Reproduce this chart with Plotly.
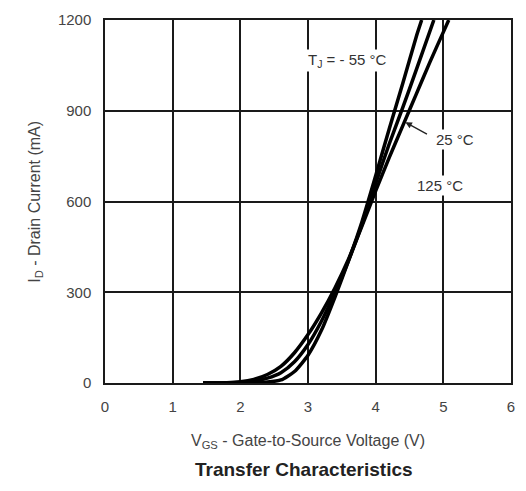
import plotly.graph_objects as go

# Transfer characteristics: Vgs (V) vs Id (mA) at three junction temperatures
vgs_m55 = [1.45, 2.0, 2.2, 2.4, 2.6, 2.8, 3.0, 3.2, 3.4, 3.6, 3.8, 4.0, 4.2, 4.4, 4.6, 4.68]
id_m55 = [0, 0, 1, 3, 10, 38, 92, 175, 285, 405, 535, 685, 840, 990, 1145, 1200]

vgs_25 = [1.45, 1.8, 2.0, 2.2, 2.4, 2.6, 2.8, 3.0, 3.2, 3.4, 3.6, 3.8, 4.0, 4.2, 4.4, 4.6, 4.86]
id_25 = [0, 0, 2, 6, 16, 34, 70, 127, 205, 300, 405, 525, 660, 790, 910, 1035, 1200]

vgs_125 = [1.45, 1.8, 2.0, 2.2, 2.4, 2.6, 2.8, 3.0, 3.2, 3.4, 3.6, 3.8, 4.0, 4.2, 4.4, 4.6, 4.8, 5.0, 5.08]
id_125 = [0, 1, 4, 12, 28, 55, 100, 160, 232, 315, 410, 520, 635, 745, 850, 955, 1060, 1160, 1200]

x_ticks = [0, 1, 2, 3, 4, 5, 6]
y_ticks = [0, 300, 600, 900, 1200]

fig = go.Figure()
for xs, ys, name in [(vgs_m55, id_m55, "-55 °C"), (vgs_25, id_25, "25 °C"), (vgs_125, id_125, "125 °C")]:
    fig.add_trace(go.Scatter(x=xs, y=ys, mode="lines", name=name,
                             line=dict(color="black", width=3.5, shape="spline", smoothing=0.6),
                             showlegend=False))

tick_font = dict(family="Liberation Sans, Arial, sans-serif", size=15, color="#444")
fig.update_xaxes(range=[0, 6], tickvals=x_ticks, ticktext=[str(v) for v in x_ticks],
                 showgrid=True, gridcolor="#1a1a1a", gridwidth=1.5,
                 showline=True, linecolor="#1a1a1a", linewidth=1.5, mirror=True,
                 zeroline=False, ticks="", tickfont=tick_font, ticklabelstandoff=9)
fig.update_yaxes(range=[0, 1200], tickvals=y_ticks, ticktext=[str(v) for v in y_ticks],
                 showgrid=True, gridcolor="#1a1a1a", gridwidth=1.5,
                 showline=True, linecolor="#1a1a1a", linewidth=1.5, mirror=True,
                 zeroline=False, ticks="", tickfont=tick_font, ticklabelstandoff=9)

ann_font = dict(family="Liberation Sans, Arial, sans-serif", size=15, color="#333")
fig.add_annotation(x=3.59, y=1066, text="T<sub>J</sub> = - 55 °C", showarrow=False,
                   font=ann_font, bgcolor="white")
fig.add_annotation(x=5.17, y=806, text="25 °C", showarrow=False, font=ann_font, bgcolor="white")
fig.add_annotation(x=4.95, y=653, text="125 °C", showarrow=False, font=ann_font, bgcolor="white")
fig.add_annotation(x=4.44, y=862, ax=4.78, ay=820, axref="x", ayref="y", xref="x", yref="y",
                   text="", showarrow=True, arrowhead=2, arrowsize=1, arrowwidth=1.3,
                   arrowcolor="#222")

fig.add_annotation(xref="paper", yref="paper", x=0.5, y=-0.13, yanchor="top",
                   text="V<sub>GS</sub> - Gate-to-Source Voltage (V)", showarrow=False,
                   font=dict(family="Liberation Sans, Arial, sans-serif", size=16, color="#444"))
fig.add_annotation(xref="paper", yref="paper", x=0.49, y=-0.205, yanchor="top",
                   text="<b>Transfer Characteristics</b>", showarrow=False,
                   font=dict(family="Liberation Sans, Arial, sans-serif",
                             size=19, color="#222"))
fig.add_annotation(xref="paper", yref="paper", x=-0.2, y=0.5, textangle=-90,
                   text="I<sub>D</sub> - Drain Current (mA)", showarrow=False,
                   font=dict(family="Liberation Sans, Arial, sans-serif", size=16, color="#444"))

fig.update_layout(width=526, height=491, margin=dict(l=105, r=11, t=14, b=108),
                  paper_bgcolor="white", plot_bgcolor="white")

fig.write_html("out.html")
